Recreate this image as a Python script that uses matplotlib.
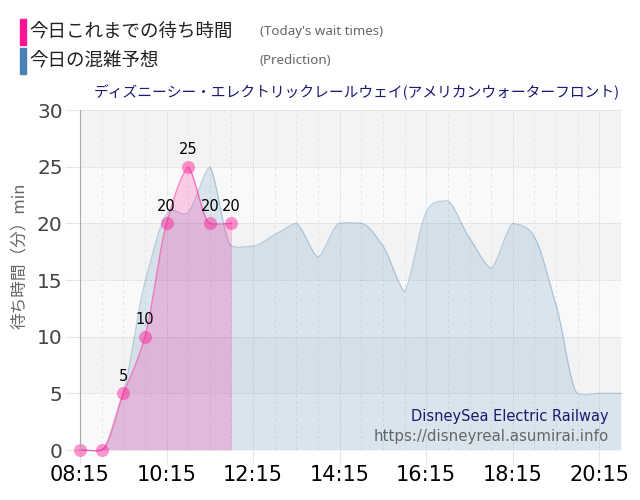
import matplotlib
matplotlib.use("Agg")
import matplotlib.pyplot as plt
import numpy as np

plt.rcParams['font.family'] = ['DejaVu Sans', 'Noto Sans CJK JP']

W, H = 640, 500

# half hour slots starting at 08:15
slots = list(range(26))
prediction = [0, 0, 5, 14.8, 20.8, 21, 25, 18, 18, 19, 20, 17, 20, 20, 18, 14, 21, 22, 18.7, 16, 20, 18.8, 12.8, 5, 5, 5]
wait_slots = [0, 1, 2, 3, 4, 5, 6, 7]
wait_times = [0, 0, 5, 10, 20, 25, 20, 20]
wait_labels = ["", "", "5", "10", "20", "25", "20", "20"]

xtick_slots = [0, 4, 8, 12, 16, 20, 24]
xtick_labels = ["08:15", "10:15", "12:15", "14:15", "16:15", "18:15", "20:15"]
yticks = [0, 5, 10, 15, 20, 25, 30]

title = "ディズニーシー・エレクトリックレールウェイ(アメリカンウォーターフロント)"
legend_ja = ["今日これまでの待ち時間", "今日の混雑予想"]
legend_en = ["(Today's wait times)", "(Prediction)"]


def smooth(xs, ys, n=30):
    # hermite segments, peaks get a corner so they stay sharp
    ys = np.array(ys, dtype=float)
    d = np.diff(ys)
    left = np.zeros(len(ys))
    right = np.zeros(len(ys))
    for i in range(1, len(ys) - 1):
        if d[i - 1] * d[i] < 0:
            left[i] = 0.4 * d[i - 1]
            right[i] = 0.4 * d[i]
        elif d[i - 1] * d[i] == 0:
            left[i] = right[i] = 0.1 * (d[i - 1] + d[i])
        else:
            left[i] = right[i] = 0.45 * (d[i - 1] + d[i])
    out_x, out_y = [], []
    for i in range(len(ys) - 1):
        t = np.linspace(0, 1, n)
        out_x.extend(xs[i] + t)
        out_y.extend((2*t**3 - 3*t**2 + 1) * ys[i] + (t**3 - 2*t**2 + t) * right[i]
                     + (-2*t**3 + 3*t**2) * ys[i + 1] + (t**3 - t**2) * left[i + 1])
    return np.array(out_x), np.array(out_y)


fig = plt.figure(figsize=(W / 100, H / 100), dpi=100)
ax = fig.add_axes([80 / W, 1 - 450 / H, 541 / W, 340 / H])
ax.set_xlim(0, 25)
ax.set_ylim(0, 30)

# bands
for i, y in enumerate(yticks[:-1]):
    ax.axhspan(y, y + 5, color="#f3f3f3" if i % 2 == 1 else "#f9f9f9", lw=0, zorder=0)

# grid
for s in slots:
    if s in xtick_slots:
        ax.axvline(s, color="#d0d0d0", lw=0.7, ls=(0, (1, 1.5)), zorder=1)
    else:
        ax.axvline(s, color="#e4e4e4", lw=0.7, ls=(0, (3, 3)), zorder=1)
for y in yticks:
    ax.axhline(y, color="#cfcfcf", lw=0.7, ls=(0, (1, 1.5)), zorder=1)

px, py = smooth(slots, prediction)
ax.fill_between(px, py, 0, color="steelblue", alpha=0.17, lw=0, zorder=2)
ax.plot(px, py, color="steelblue", alpha=0.35, lw=0.9, zorder=3, clip_on=False)

wx, wy = smooth(wait_slots, wait_times)
ax.fill_between(wx, wy, 0, color="deeppink", alpha=0.2, lw=0, zorder=4)
ax.plot(wx, wy, color="deeppink", alpha=0.5, lw=1, zorder=5, clip_on=False)
ax.plot(wait_slots, wait_times, "o", color="deeppink", alpha=0.45, ms=9.4, mew=0, zorder=6, clip_on=False)

for s, v, lab in zip(wait_slots, wait_times, wait_labels):
    ax.annotate(lab, (s, v), xytext=(0, 7), textcoords="offset points", ha="center", va="bottom",
                fontsize=10.5, color="black", zorder=7)

for side in ["top", "right", "bottom"]:
    ax.spines[side].set_visible(False)
ax.spines["left"].set_color("#aaaaaa")
ax.spines["left"].set_zorder(8)

ax.set_xticks(xtick_slots)
ax.set_xticklabels(xtick_labels, fontsize=15, color="black")
ax.tick_params(axis="x", length=11, width=0.8, color="#e6e6e6", pad=0)
ax.set_yticks(yticks)
ax.set_yticklabels([str(y) for y in yticks], fontsize=14.5, color="#444444")
ax.tick_params(axis="y", length=10.5, width=0.8, color="#e6e6e6", pad=2)

fig.text(19 / W, 1 - 256 / H, "待ち時間（分）min", rotation=90, ha="center", va="center",
         fontsize=12, color="#666666", family=['Noto Sans CJK JP', 'DejaVu Sans'])

fig.text(620 / W, 1 - 92 / H, title, ha="right", va="center", fontsize=10.6, color="#191970",
         family=['Noto Sans CJK JP', 'DejaVu Sans'])

for i, color in enumerate(["deeppink", "steelblue"]):
    yc = [32, 61][i]
    fig.patches.append(plt.Rectangle((19.5 / W, 1 - (yc + 13) / H), 6 / W, 26 / H, color=color,
                                     transform=fig.transFigure, figure=fig))
    fig.text(29 / W, 1 - yc / H, legend_ja[i], ha="left", va="center", fontsize=13.3, color="#222222",
             family=['Noto Sans CJK JP', 'DejaVu Sans'])
    fig.text(260 / W, 1 - (yc - 1) / H, legend_en[i], ha="left", va="center", fontsize=9.6, color="#666666",
             family="Noto Sans")

fig.text(609 / W, 1 - 416 / H, "DisneySea Electric Railway", ha="right", va="center", fontsize=10.5, color="#191970")
fig.text(609 / W, 1 - 436 / H, "https://disneyreal.asumirai.info", ha="right", va="center", fontsize=10.8, color="#666666")

fig.savefig("out.png", dpi=100)
